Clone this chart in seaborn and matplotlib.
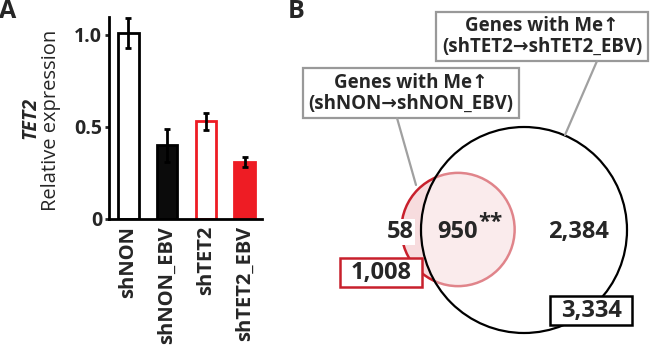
import numpy as np
import pandas as pd
import matplotlib
matplotlib.use("Agg")
import matplotlib.pyplot as plt
import seaborn as sns
from matplotlib.patches import Circle, Rectangle

# ========= DATA =========
samples = ["shNON", "shNON_EBV", "shTET2", "shTET2_EBV"]
rel_expr = [1.01, 0.40, 0.53, 0.31]
rel_err = [0.08, 0.09, 0.045, 0.028]
bar_face = ["white", "#0b0b0b", "white", "#ee1c24"]
bar_edge = ["black", "black", "#ee1c24", "#ee1c24"]

venn_only_non = 58
venn_shared = 950
venn_only_tet2 = 2384
venn_total_non = 1008
venn_total_tet2 = 3334
box_non = "Genes with Me\u2191\n(shNON\u2192shNON_EBV)"
box_tet2 = "Genes with Me\u2191\n(shTET2\u2192shTET2_EBV)"

# ========= STYLE =========
sns.set_theme(style="ticks")
FAM = ["Open Sans", "DejaVu Sans"]
plt.rcParams["font.family"] = FAM

fig = plt.figure(figsize=(6.5, 3.56), dpi=100)

# ========= PANEL A: bars =========
W, H = 650, 356
ax = fig.add_axes([109 / W, 1 - 219 / H, 153 / W, (219 - 16.6) / H])
df = pd.DataFrame({"sample": samples, "expr": rel_expr})
sns.barplot(data=df, x="sample", y="expr", hue="sample", palette=bar_face,
            errorbar=None, width=0.53, legend=False, ax=ax, saturation=1)
for cont, ec in zip(ax.containers, bar_edge):
    for p in cont:
        p.set_edgecolor(ec)
        p.set_linewidth(2.0)
ax.errorbar(np.arange(len(samples)), rel_expr, yerr=rel_err, fmt="none",
            ecolor="black", elinewidth=2, capsize=2.5, capthick=2)
ax.set_xlim(-0.5, 3.45)
ax.set_ylim(0, 1.1)
ax.set_yticks([0, 0.5, 1.0])
ax.set_yticklabels(["0", "0.5", "1.0"], fontweight="bold", fontsize=14)
ax.set_xticks(range(len(samples)))
ax.set_xticklabels(samples, rotation=90, fontweight="bold", fontsize=14.5)
ax.tick_params(axis="x", length=0, pad=5)
ax.tick_params(axis="y", length=3, width=2, pad=2)
ax.set_xlabel("")
ax.set_ylabel("")
sns.despine(ax=ax)
for s in ["left", "bottom"]:
    ax.spines[s].set_linewidth(2)
    ax.spines[s].set_color("black")

fig.text(30 / W, 1 - 118 / H, "TET2", rotation=90, ha="center", va="center",
         fontsize=14, fontweight="bold", fontstyle="italic")
fig.text(51 / W, 1 - 120 / H, "Relative expression", rotation=90, ha="center",
         va="center", fontsize=14.5)
fig.text(8 / W, 1 - 12 / H, "A", ha="center", va="center", fontsize=18, fontweight="bold")
fig.text(296 / W, 1 - 12 / H, "B", ha="center", va="center", fontsize=18, fontweight="bold")

# ========= PANEL B: venn =========
vx = fig.add_axes([0, 0, 1, 1], zorder=-1)
vx.set_xlim(0, W)
vx.set_ylim(H, 0)
vx.axis("off")

k = 103 / np.sqrt(venn_total_tet2)  # area-proportional radii
r_non = k * np.sqrt(venn_total_non)
r_tet = k * np.sqrt(venn_total_tet2)
c_non = (458, 229.5)
c_tet = (524, 230)

vx.add_patch(Circle(c_non, r_non, facecolor="#f7dcde", edgecolor="#c8202c", lw=1.8))
vx.add_patch(Circle(c_tet, r_tet, facecolor=(1, 1, 1, 0.45), edgecolor="none"))
vx.add_patch(Circle(c_tet, r_tet, facecolor="none", edgecolor="black", lw=1.6))

# leader lines and boxes
vx.plot([397, 416], [118, 185], color="#a0a0a0", lw=1.6)
vx.plot([597, 565], [61, 135], color="#a0a0a0", lw=1.6)
vx.add_patch(Rectangle((303, 68), 216, 50, facecolor="white", edgecolor="#999999", lw=1.6))
vx.add_patch(Rectangle((436, 12), 212, 49, facecolor="white", edgecolor="#999999", lw=1.6))
vx.text(411, 93, box_non, ha="center", va="center", fontsize=13.5,
        fontweight="bold", family=FAM, linespacing=1.05)
vx.text(542, 36.5, box_tet2, ha="center", va="center", fontsize=13.5,
        fontweight="bold", family=FAM, linespacing=1.05)

# counts
vx.text(400, 232, f"{venn_only_non:,}", ha="center", va="center", fontsize=17,
        fontweight="bold", bbox=dict(facecolor="white", edgecolor="none", pad=1))
vx.text(457, 232, f"{venn_shared:,}", ha="center", va="center", fontsize=17,
        fontweight="bold")
vx.text(490, 222, "**", ha="center", va="center", fontsize=16, fontweight="bold")
vx.text(578, 232, f"{venn_only_tet2:,}", ha="center", va="center", fontsize=17,
        fontweight="bold")
vx.add_patch(Rectangle((340, 258), 82, 29, facecolor="white", edgecolor="#c8202c", lw=1.8))
vx.text(381, 272.5, f"{venn_total_non:,}", ha="center", va="center", fontsize=17,
        fontweight="bold")
vx.add_patch(Rectangle((550, 296), 82, 29, facecolor="white", edgecolor="black", lw=1.8))
vx.text(591, 310.5, f"{venn_total_tet2:,}", ha="center", va="center", fontsize=17,
        fontweight="bold")

fig.savefig("out.png", dpi=100, facecolor="white")
